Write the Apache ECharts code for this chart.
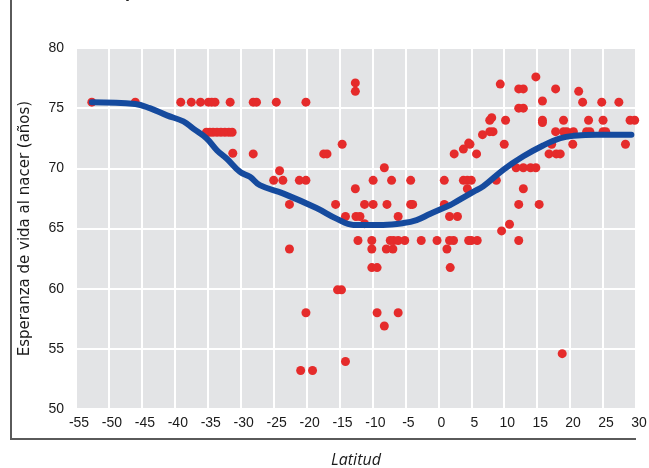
<!DOCTYPE html>
<html>
<head>
<meta charset="utf-8">
<script src="https://cdn.jsdelivr.net/npm/echarts@6/dist/echarts.min.js"></script>
<style>
  html, body { margin: 0; padding: 0; background: #ffffff; }
  #chart { width: 649px; height: 468px; }
</style>
</head>
<body>
<div id="chart"></div>
<script>
// Latitude (degrees) and life expectancy at birth (years) for each country
const paisLatitud = [
  -52.6, -46.0, -39.1, -37.5, -36.1, -34.9, -34.4, -33.9, -31.6, -28.1, -27.6,
  -35.2, -34.7, -34.2, -33.6, -33.0, -32.4, -31.8, -31.3, -31.2, -28.1,
  -24.6, -20.1, -12.6, -12.6, -17.4, -16.9, -14.6, -24.1, -25.0, -23.6, -21.1, -20.1,
  -8.2, -9.9, -7.1, -4.2, 0.9, -12.6, -22.6, -15.6, -11.2, -9.9, -7.8, -4.2, -3.9, 0.9,
  -14.1, -12.5, -11.9, -6.1, -11.2, 1.7, -12.2, -10.1, -7.3, -6.8, -6.1, -5.1, -2.6, -0.2, 1.7,
  -22.6, -10.1, -7.9, -6.9, 1.3,
  -10.1, -9.3, 1.8, -15.3, -14.7, -20.1, -9.3, -6.1, -8.2, -14.1, -20.9, -19.1,
  14.8, 9.4, 12.2, 12.9, 17.8, 21.3, 15.8, 21.9, 24.8, 27.4, 12.2, 12.9,
  8.1, 7.8, 10.2, 15.8, 15.8, 19.0, 22.8, 25.0, 29.1, 29.8,
  7.8, 8.3, 6.7, 17.8, 19.0, 19.5, 20.5, 22.5, 23.0, 25.0, 25.4,
  4.6, 4.8, 10.0, 17.2, 20.4, 28.4, 3.8, 2.4, 5.8, 16.8, 17.9, 18.5,
  11.8, 12.9, 14.0, 14.8, 3.8, 4.4, 5.0, 8.8, 4.4, 12.9, 12.2, 15.3,
  2.9, 10.8, 9.6, 2.3, 4.6, 5.0, 5.9, 12.2, 18.8
];
const paisVida = [
  75.5, 75.5, 75.5, 75.5, 75.5, 75.5, 75.5, 75.5, 75.5, 75.5, 75.5,
  73.0, 73.0, 73.0, 73.0, 73.0, 73.0, 73.0, 73.0, 71.25, 71.2,
  75.5, 75.5, 77.1, 76.4, 71.2, 71.2, 72.0, 69.8, 69.0, 69.0, 69.0, 69.0,
  70.05, 69.0, 69.0, 69.0, 69.0, 68.3, 67.0, 67.0, 67.0, 67.0, 67.0, 67.0, 67.0, 67.0,
  66.0, 66.0, 66.0, 66.0, 65.4, 66.0, 64.0, 64.0, 64.0, 64.0, 64.0, 64.0, 64.0, 64.0, 64.0,
  63.3, 63.3, 63.3, 63.3, 63.3,
  61.75, 61.75, 61.75, 59.9, 59.9, 58.0, 58.0, 58.0, 56.9, 53.95, 53.2, 53.2,
  77.6, 77.0, 76.6, 76.6, 76.6, 76.4, 75.6, 75.5, 75.5, 75.5, 75.0, 75.0,
  74.2, 74.0, 74.0, 74.0, 73.8, 74.0, 74.0, 74.0, 74.0, 74.0,
  73.05, 73.05, 72.8, 73.05, 73.05, 73.05, 73.05, 73.05, 73.05, 73.05, 73.05,
  72.1, 72.0, 72.0, 72.0, 72.0, 72.0, 71.6, 71.2, 71.2, 71.2, 71.2, 71.2,
  70.05, 70.05, 70.05, 70.05, 69.0, 69.0, 69.0, 69.0, 68.3, 68.3, 67.0, 67.0,
  66.0, 65.35, 64.8, 64.0, 64.0, 64.0, 64.0, 64.0, 54.6
];

// Smoothed trend of life expectancy by latitude
const curvaLatitud = [
  -52.6, -46.0, -43.8, -41.2, -38.7, -37.2, -35.2, -33.6, -32.1, -30.1, -28.6, -27.1,
  -23.5, -18.5, -15.4, -12.9, -8.4, -5.3, -3.3, -1.3, 1.8, 2.3, 5.3, 6.8, 9.9, 12.9,
  15.9, 18.5, 20.5, 24.0, 29.3
];
const curvaVida = [
  75.5, 75.35, 75.0, 74.4, 73.9, 73.3, 72.5, 71.5, 70.8, 69.7, 69.3, 68.6,
  67.9, 66.7, 65.8, 65.3, 65.3, 65.45, 65.7, 66.2, 66.95, 67.1, 68.05, 68.5, 69.9, 71.0,
  71.9, 72.5, 72.7, 72.8, 72.8
];

// Axis ranges and tick spacing
const ejeX = { min: -55, max: 30, paso: 5 };
const ejeY = { min: 50, max: 80, paso: 5 };

const puntos = paisLatitud.map((lat, i) => [lat, paisVida[i]]);
const curva = curvaLatitud.map((lat, i) => [lat, curvaVida[i]]);

const chart = echarts.init(document.getElementById('chart'), null, { renderer: 'canvas' });

const etiqueta = { color: '#1a1a1a', fontSize: 14, fontFamily: 'Liberation Sans, Arial, sans-serif' };

chart.setOption({
  animation: false,
  backgroundColor: '#ffffff',
  grid: {
    left: 76, right: 13, top: 48, bottom: 59,
    containLabel: false,
    outerBoundsMode: 'none',
    show: true, backgroundColor: '#e3e4e6', borderWidth: 0
  },
  xAxis: {
    type: 'value',
    min: ejeX.min, max: ejeX.max, interval: ejeX.paso,
    name: 'Latitud',
    nameLocation: 'middle',
    nameGap: 43,
    nameTextStyle: { color: '#1a1a1a', fontSize: 16, fontStyle: 'italic', fontFamily: 'Open Sans, sans-serif' },
    axisLine: { show: false },
    axisTick: { show: false },
    axisLabel: Object.assign({ margin: 7, padding: [0, 0, 0, 6] }, etiqueta),
    splitLine: { show: true, lineStyle: { color: '#ffffff', width: 2 } }
  },
  yAxis: {
    type: 'value',
    min: ejeY.min, max: ejeY.max, interval: ejeY.paso,
    name: 'Esperanza de vida al nacer (años)',
    nameLocation: 'middle',
    nameGap: 43,
    nameTextStyle: { color: '#1a1a1a', fontSize: 15, fontFamily: 'DejaVu Sans, sans-serif' },
    axisLine: { show: false },
    axisTick: { show: false },
    axisLabel: Object.assign({ margin: 12 }, etiqueta),
    splitLine: { show: true, lineStyle: { color: '#ffffff', width: 2 } }
  },
  graphic: [
    {
      type: 'text', left: 103, top: -17, silent: true,
      style: { text: 'Esperanza de vida, 2000', fill: '#222222', font: 'bold 18px "Liberation Sans", Arial, sans-serif' }
    },
    {
      type: 'polyline', silent: true,
      shape: { points: [[11, 0], [11, 439], [636, 439]] },
      style: { stroke: '#5a5a5a', lineWidth: 2, fill: null }
    }
  ],
  series: [
    {
      type: 'scatter',
      data: puntos,
      symbol: 'circle',
      symbolSize: 9,
      itemStyle: { color: '#e52b2b', opacity: 1 },
      z: 2
    },
    {
      type: 'line',
      data: curva,
      smooth: 0.4,
      showSymbol: false,
      lineStyle: { color: '#154a9e', width: 6, cap: 'round', join: 'round' },
      z: 3
    }
  ]
});
</script>
</body>
</html>
